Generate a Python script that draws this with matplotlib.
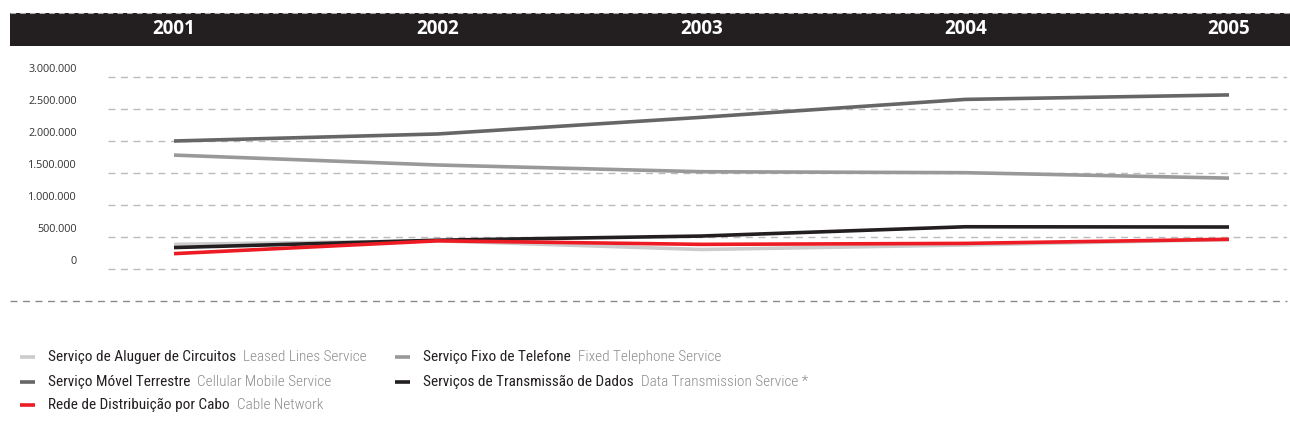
import matplotlib
matplotlib.use("Agg")
import matplotlib.pyplot as plt
import matplotlib.transforms as mtransforms
from matplotlib import font_manager
from matplotlib.patches import Rectangle
from matplotlib.lines import Line2D

# ---------------- data ----------------
years = [2001, 2002, 2003, 2004, 2005]
leased_lines = [385000, 440000, 305000, 375000, 460000]
fixed_telephone = [1780000, 1625000, 1520000, 1505000, 1420000]
cellular_mobile = [2000000, 2110000, 2370000, 2650000, 2720000]
data_transmission = [335000, 450000, 515000, 660000, 656000]
cable_network = [240000, 440000, 385000, 400000, 464000]

ytick_values = [0, 500000, 1000000, 1500000, 2000000, 2500000, 3000000]
ytick_labels = ["0", "500.000", "1.000.000", "1.500.000", "2.000.000", "2.500.000", "3.000.000"]

legend_pt = ["Serviço de Aluguer de Circuitos", "Serviço Fixo de Telefone",
             "Serviço Móvel Terrestre", "Serviços de Transmissão de Dados",
             "Rede de Distribuição por Cabo"]
legend_en = ["Leased Lines Service", "Fixed Telephone Service",
             "Cellular Mobile Service", "Data Transmission Service *",
             "Cable Network"]

# ---------------- style ----------------
c_leased = "#cccccc"
c_fixed = "#999999"
c_mobile = "#666666"
c_data = "#231f20"
c_cable = "#ed1c24"
plt.rcParams["lines.scale_dashes"] = False

names = {f.name for f in font_manager.fontManager.ttflist}
cond = None
for cand in ["Roboto Condensed", "Liberation Sans Narrow", "DejaVu Sans Condensed", "Open Sans Condensed"]:
    if cand in names:
        cond = cand
        break
if cond is None:
    cond = "Open Sans"
plt.rcParams["font.family"] = ["Open Sans", "DejaVu Sans"]

W, H = 1290, 432
fig = plt.figure(figsize=(W / 100, H / 100), dpi=100)

def fx(px):
    return px / W

def fy(py):
    return (H - py) / H

# axes: x 108..1287 px; y: -0.25M at 285px, 3.25M at 61px
ax = fig.add_axes([fx(108), fy(285), fx(1287 - 108), (285 - 61) / H])
ppy = (1229 - 174) / 4.0
ax.set_xlim(2001 - (174 - 108) / ppy, 2005 + (1287 - 1229) / ppy)
ax.set_ylim(-250000, 3250000)
ax.axis("off")

for v in ytick_values:
    ax.axhline(v, color="#bbbbbb", lw=1.0, linestyle=(0, (5, 4)), zorder=1)

ytrans = mtransforms.offset_copy(ax.get_yaxis_transform(), fig=fig, x=0, y=8, units="dots")
for v, lab in zip(ytick_values, ytick_labels):
    ax.text((77 - 108) / (1287 - 108), v, lab, transform=ytrans, ha="right", va="center",
            fontsize=7.8, color="#333333", clip_on=False)

series = [(leased_lines, c_leased), (fixed_telephone, c_fixed), (cellular_mobile, c_mobile),
          (data_transmission, c_data), (cable_network, c_cable)]
for i, (vals, col) in enumerate(series):
    ax.plot(years, vals, color=col, lw=2.6, solid_capstyle="butt", zorder=3 + i)

# header bar
fig.add_artist(Rectangle((fx(10), fy(46)), fx(1290 - 10), (46 - 13) / H,
                         transform=fig.transFigure, facecolor="#231f20", edgecolor="none"))
fig.add_artist(Line2D([fx(10), fx(1290)], [fy(13), fy(13)], transform=fig.transFigure,
                      color="#aaaaaa", lw=0.8, linestyle=(0, (4, 3))))
htrans = mtransforms.blended_transform_factory(ax.transData, fig.transFigure)
for yr in years:
    fig.text(yr, fy(29), str(yr), transform=htrans, ha="center", va="center",
             fontsize=13.5, fontweight="bold", color="white")

# bottom dashed line
fig.add_artist(Line2D([fx(10), fx(1287)], [fy(301), fy(301)], transform=fig.transFigure,
                      color="#8a8a8a", lw=1.0, linestyle=(0, (5, 4))))

# legend
leg_colors = [c_leased, c_fixed, c_mobile, c_data, c_cable]
positions = [(20, 357), (395, 357), (20, 382), (395, 382), (20, 405)]
for (x0, y0), col, pt, en in zip(positions, leg_colors, legend_pt, legend_en):
    fig.add_artist(Line2D([fx(x0), fx(x0 + 15)], [fy(y0), fy(y0)], transform=fig.transFigure,
                          color=col, lw=2.6, solid_capstyle="butt"))
    t = fig.text(fx(x0 + 28), fy(y0), pt, ha="left", va="center", fontsize=11,
                 color="#231f20", family=[cond, "DejaVu Sans"], fontweight="normal")
    fig.canvas.draw()
    bb = t.get_window_extent()
    fig.text((bb.x1 + 7) / W, fy(y0), en, ha="left", va="center", fontsize=11,
             color="#8c8c8c", family=[cond, "DejaVu Sans"], fontweight="light")

fig.savefig("out.png", dpi=100)
